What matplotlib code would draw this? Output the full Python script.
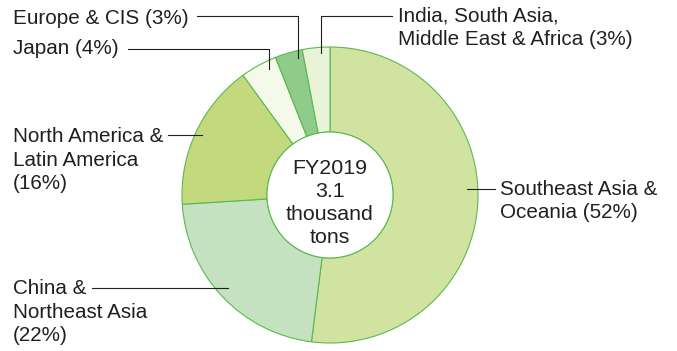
import matplotlib.pyplot as plt
from matplotlib.patches import Circle

plt.rcParams["font.family"] = ["Liberation Sans", "DejaVu Sans"]

regions = ["Southeast Asia &\nOceania (52%)", "China &\nNortheast Asia\n(22%)",
           "North America &\nLatin America\n(16%)", "Japan (4%)", "Europe & CIS (3%)",
           "India, South Asia,\nMiddle East & Africa (3%)"]
shares = [52, 22, 16, 4, 3, 3]
colors = ["#d0e3a0", "#c4e1c0", "#c2d97e", "#f4f9ea", "#8fcb8b", "#e8f3d8"]
center_lines = ["FY2019", "3.1", "thousand", "tons"]

W, H = 677, 351
edge = "#5cb84f"
ink = "#231f20"

def Y(p):
  # pixel row (from top) -> data y
  return H - p

fig = plt.figure(figsize=(W/100, H/100), dpi=100)
ax = fig.add_axes([0, 0, 1, 1])

cx, cy, r_out, r_in = 330, Y(195), 148, 63
ax.pie(shares, colors=colors, startangle=90, counterclock=False, center=(cx, cy),
       radius=r_out, frame=True,
       wedgeprops=dict(width=r_out - r_in, edgecolor=edge, linewidth=0.8))
ax.add_patch(Circle((cx, cy), r_in, facecolor="white", edgecolor=edge, linewidth=0.8, zorder=3))
ax.set_xlim(0, W)
ax.set_ylim(0, H)
ax.set_aspect("equal")
ax.axis("off")

fs = 14.9
for i, t in enumerate(center_lines):
  ax.text(cx, Y(168 + 23.3*i), t, ha="center", va="center", fontsize=15.4, color=ink, zorder=4)

# leader lines: (label index, polyline in pixel coords, text position)
leaders = [
  (0, [(467, 189), (495, 189)], (500, 201)),
  (1, [(92, 288), (228, 288)], (13, 312)),
  (2, [(168, 135), (202, 135)], (13, 160)),
  (3, [(128, 49), (269, 49), (269, 69)], (13, 48)),
  (4, [(197, 16), (298, 16), (298, 58)], (13, 19)),
  (5, [(321, 53), (321, 16), (392, 16)], (398, 28)),
]
for idx, pts, (tx, ty) in leaders:
  ax.plot([p[0] for p in pts], [Y(p[1]) for p in pts], color=ink, lw=0.8, zorder=5)
  ax.text(tx, Y(ty), regions[idx], ha="left", va="center", fontsize=fs, color=ink,
          linespacing=1.33)

fig.savefig("out.png", dpi=100)
